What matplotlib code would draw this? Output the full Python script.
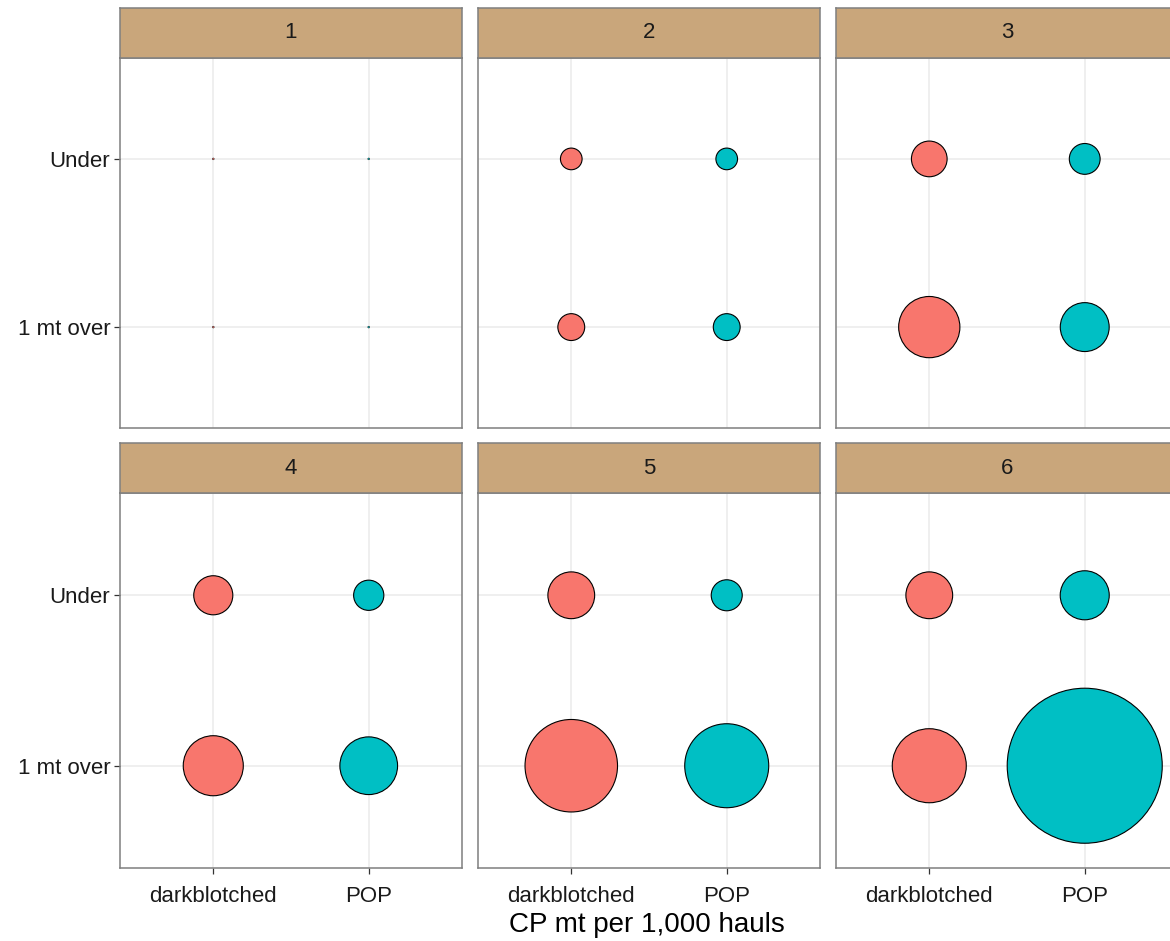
import numpy as np
import matplotlib.pyplot as plt

plt.rcParams['font.family'] = ['Liberation Sans', 'DejaVu Sans']

# facet panels, species on x, catch class on y
panels = ['1', '2', '3', '4', '5', '6']
species = ['darkblotched', 'POP']
classes = ['1 mt over', 'Under']

# CP mt per 1,000 hauls, one value per panel
dark_over  = [0.003, 0.60, 3.12, 3.00, 7.12, 4.56]
dark_under = [0.003, 0.39, 1.06, 1.27, 1.82, 1.82]
pop_over   = [0.003, 0.60, 1.99, 2.77, 5.87, 20.0]
pop_under  = [0.003, 0.39, 0.79, 0.76, 0.80, 2.00]

colors = {'darkblotched': '#F8766D', 'POP': '#00BFC4'}
size_per_unit = 623.0  # marker area (pt^2) per unit value

W, H = 1170, 941
fig = plt.figure(figsize=(W / 100, H / 100), dpi=100)

col_left = [120, 478, 836]
panel_w = 342
rows = [(8, 58, 428), (443, 493, 868)]  # strip top, panel top, panel bottom

def frac(x0, y0, x1, y1):
    return [x0 / W, 1 - y1 / H, (x1 - x0) / W, (y1 - y0) / H]

for i, p in enumerate(panels):
    r, c = divmod(i, 3)
    s_top, p_top, p_bot = rows[r]
    x0 = col_left[c]
    ax = fig.add_axes(frac(x0, p_top, x0 + panel_w, p_bot))
    strip = fig.add_axes(frac(x0, s_top, x0 + panel_w, p_top))

    for sp, over, under in [('darkblotched', dark_over, dark_under),
                            ('POP', pop_over, pop_under)]:
        xs = [species.index(sp) + 1] * 2
        ys = [1, 2]
        vals = np.array([over[i], under[i]])
        lw = 0.8 if vals.max() > 0.05 else 0.3
        ax.scatter(xs, ys, s=vals * size_per_unit, c=colors[sp],
                   edgecolors='black', linewidths=lw, zorder=3)

    ax.set_xlim(0.4, 2.6)
    ax.set_ylim(0.4, 2.6)
    ax.set_xticks([1, 2])
    ax.set_yticks([1, 2])
    ax.grid(True, color='#EBEBEB', lw=1.1, zorder=0)
    ax.set_axisbelow(True)
    for s in ax.spines.values():
        s.set_color('#7F7F7F')
        s.set_linewidth(1.1)
    ax.tick_params(length=4, width=0.9, color='#333333',
                   labelsize=16, labelcolor='#1A1A1A', pad=3)
    if c == 0:
        ax.set_yticklabels(classes)
    else:
        ax.tick_params(axis='y', length=0, labelleft=False)
    if r == 1:
        ax.set_xticklabels(species)
        ax.tick_params(axis='x', pad=9)
    else:
        ax.tick_params(axis='x', length=0, labelbottom=False)

    strip.set_facecolor('#C9A67B')
    strip.set_xticks([])
    strip.set_yticks([])
    for s in strip.spines.values():
        s.set_color('#7F7F7F')
        s.set_linewidth(1.1)
    strip.text(0.5, 0.5, p, ha='center', va='center', fontsize=16,
               color='#1A1A1A', transform=strip.transAxes)

fig.text(647 / W, 1 - 925 / H, 'CP mt per 1,000 hauls', ha='center',
         va='center', fontsize=20, color='black')

fig.savefig('out.png', dpi=100)
